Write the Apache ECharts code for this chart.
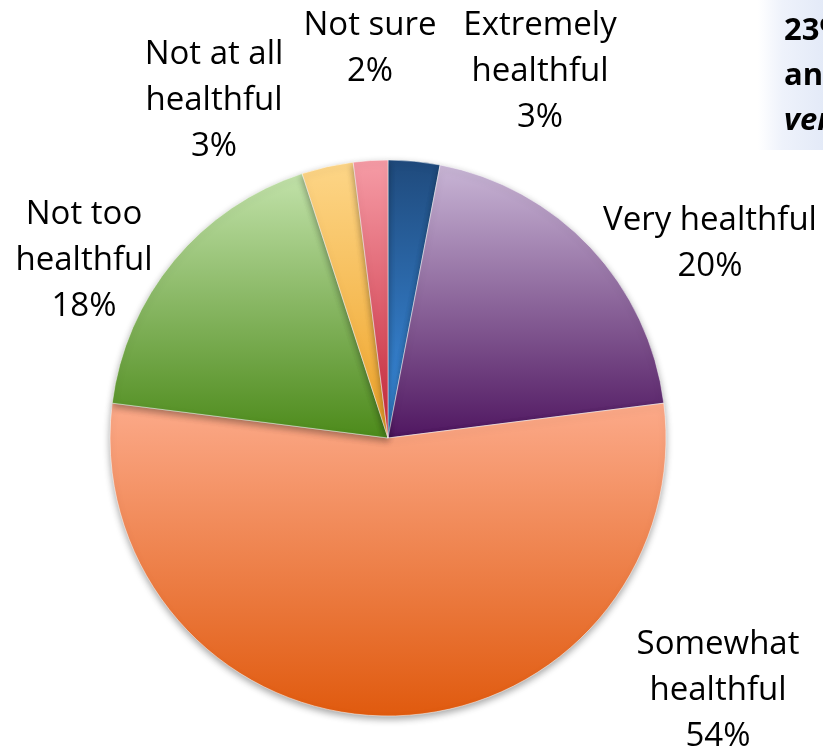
<!DOCTYPE html>
<html>
<head>
<meta charset="utf-8">
<script src="https://cdn.jsdelivr.net/npm/echarts@6/dist/echarts.min.js"></script>
<style>
  html, body { margin: 0; padding: 0; background: #ffffff; }
  #chart { width: 823px; height: 756px; }
</style>
</head>
<body>
<div id="chart"></div>
<script>
// Survey answers, clockwise from 12 o'clock
const categories = [
  'Extremely\nhealthful',
  'Very healthful',
  'Somewhat\nhealthful',
  'Not too\nhealthful',
  'Not at all\nhealthful',
  'Not sure'
];
const shares = [3, 20, 54, 18, 3, 2];

// Top/bottom gradient stops for each slice
const gradTop = ['#1f4a7c', '#c9b6d6', '#fcaa8a', '#c2e2aa', '#fdd688', '#f69ca6'];
const gradBottom = ['#3b8fe4', '#4f1660', '#e05a0e', '#4c8a1a', '#eea226', '#c62638'];

// Label anchor points (centre of each multi-line label)
const labelX = [540, 710, 718, 84, 214, 370];
const labelY = [72, 244, 691, 261, 101, 49];

const chart = echarts.init(document.getElementById('chart'), null, { renderer: 'canvas' });

const data = categories.map((name, i) => ({
  name: name,
  value: shares[i],
  itemStyle: {
    color: new echarts.graphic.LinearGradient(0, 0, 0, 1, [
      { offset: 0, color: gradTop[i] },
      { offset: 1, color: gradBottom[i] }
    ])
  }
}));

const calloutFont = '"Open Sans"';

chart.setOption({
  animation: false,
  backgroundColor: '#ffffff',
  graphic: [
    {
      type: 'rect',
      shape: { x: 758, y: 0, width: 70, height: 150 },
      style: {
        fill: new echarts.graphic.LinearGradient(0, 0, 1, 0, [
          { offset: 0, color: 'rgba(255,255,255,1)' },
          { offset: 0.35, color: '#eef2fb' },
          { offset: 1, color: '#e2e9f7' }
        ])
      },
      z: 0
    },
    {
      type: 'text',
      style: { x: 784, y: 31, text: '23%', fill: '#000', font: 'bold 31px ' + calloutFont, verticalAlign: 'middle' },
      z: 1
    },
    {
      type: 'text',
      style: { x: 784, y: 76, text: 'and', fill: '#000', font: 'bold 31px ' + calloutFont, verticalAlign: 'middle' },
      z: 1
    },
    {
      type: 'text',
      style: { x: 784, y: 121, text: 'very', fill: '#000', font: 'italic bold 31px ' + calloutFont, verticalAlign: 'middle' },
      z: 1
    }
  ],
  series: [
    {
      type: 'pie',
      center: [388, 438],
      radius: 278,
      startAngle: 90,
      clockwise: true,
      avoidLabelOverlap: false,
      itemStyle: {
        borderColor: 'rgba(255,255,255,0.5)',
        borderWidth: 1,
        shadowColor: 'rgba(0,0,0,0.35)',
        shadowBlur: 7,
        shadowOffsetY: 3
      },
      label: {
        show: true,
        position: 'outside',
        color: '#000',
        fontFamily: 'Open Sans',
        fontSize: 33,
        lineHeight: 46,
        align: 'center',
        formatter: p => p.name + '\n' + p.value + '%'
      },
      labelLine: { show: false },
      labelLayout: p => ({
        x: labelX[p.dataIndex],
        y: labelY[p.dataIndex],
        align: 'center',
        verticalAlign: 'middle'
      }),
      emphasis: { disabled: true },
      data: data
    }
  ]
});
</script>
</body>
</html>
